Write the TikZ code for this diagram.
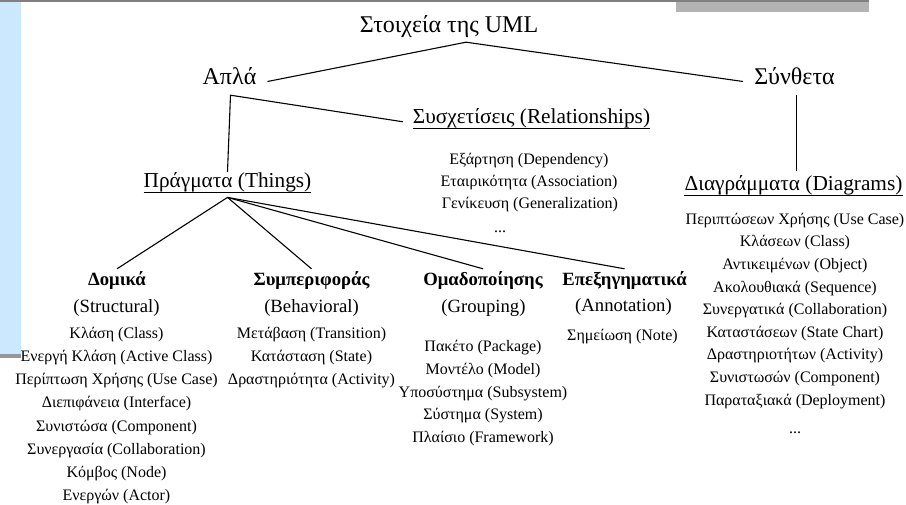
\documentclass[tikz,border=0pt]{standalone}
\usepackage{fontspec}
\setmainfont{Liberation Serif}
\usetikzlibrary{calc}
\definecolor{bandblue}{RGB}{204,232,255}
\definecolor{bargray}{RGB}{179,179,179}
\definecolor{linegray}{RGB}{128,128,128}
\definecolor{footgray}{RGB}{150,150,150}
\tikzset{
  txt/.style={inner sep=0pt, anchor=base},
  lvlA/.style={txt, font=\fontsize{24}{28}\selectfont, text height=0.7em, text depth=0pt},
  lvlB/.style={txt, font=\fontsize{21.3}{25}\selectfont, text height=0.7em, text depth=0.25em},
  head/.style={txt, font=\fontsize{18.7}{22}\selectfont\bfseries, text height=0.7em, text depth=0.25em},
  sub/.style={txt, font=\fontsize{18.7}{22}\selectfont},
  item/.style={txt, font=\fontsize{16}{19}\selectfont},
  conn/.style={draw=black, line width=1.1pt},
  uline/.style={draw=black, line width=0.9pt}
}
\begin{document}
\begin{tikzpicture}[x=1pt,y=-1pt]
\useasboundingbox (0,0) rectangle (906,505);
% background decorations
\fill[bandblue] (0,2) rectangle (21,354);
\fill[footgray] (0,354) rectangle (21,358);
\fill[bargray] (676,0) rectangle (869,12);
\fill[linegray] (0,0) rectangle (869,2);

% top levels
\node[lvlA] (root) at (449,33) {Στοιχεία της UML};
\node[lvlA] (apla) at (229.5,85) {Απλά};
\node[lvlA] (synth) at (794.5,85) {Σύνθετα};
\node[lvlB] (rel) at (531.5,124) {Συσχετίσεις (Relationships)};
\node[lvlB] (things) at (227.5,188) {Πράγματα (Things)};
\node[lvlB] (diag) at (793.5,191) {Διαγράμματα (Diagrams)};
\foreach \n in {rel,things,diag}
  \draw[uline] ([yshift=-4.8pt]\n.base west) -- ([yshift=-4.8pt]\n.base east);

\coordinate (rootj) at ([xshift=17pt,yshift=-9pt]root.south);
\coordinate (aplaj) at ([xshift=1pt,yshift=-10pt]apla.south);
\coordinate (thingsj) at ([yshift=-6.7pt]things.south);

\draw[conn] ([xshift=11pt]apla.east) -- (rootj) -- ([xshift=-11pt]synth.west);
\draw[conn] ([yshift=9pt]things.north) -- (aplaj) -- ([xshift=-10pt]rel.west);
\draw[conn] ([xshift=2pt,yshift=-10pt]synth.south) -- ([xshift=3pt,yshift=13pt]diag.north);

% relationships list
\node[item] (r1) at (529,164.3) {Εξάρτηση (Dependency)};
\node[item] (r2) at (529,186.7) {Εταιρικότητα (Association)};
\node[item] (r3) at (530,208.6) {Γενίκευση (Generalization)};
\node[item] (r4) at (500,233) {...};

% categories
\node[head] (c1) at (117,286) {Δομικά};
\node[head] (c2) at (311.5,286) {Συμπεριφοράς};
\node[head] (c3) at (483,286) {Ομαδοποίησης};
\node[head] (c4) at (624.5,286) {Επεξηγηματικά};
\node[sub] (c1s) at (116.5,312.5) {(Structural)};
\node[sub] (c2s) at (311.5,312.5) {(Behavioral)};
\node[sub] (c3s) at (483.5,312.5) {(Grouping)};
\node[sub] (c4s) at (623.5,312) {(Annotation)};

\foreach \c in {c1,c2,c3,c4}
  \draw[conn] (thingsj) -- ([yshift=10pt]\c.north);

% structural
\foreach \t [count=\i] in {Κλάση (Class), Ενεργή Κλάση (Active Class), Περίπτωση Χρήσης (Use Case), Διεπιφάνεια (Interface), Συνιστώσα (Component), Συνεργασία (Collaboration), Κόμβος (Node), Ενεργών (Actor)}
  \node[item] (s\i) at (116.5,{338.3+23.2*(\i-1)}) {\t};
% behavioral
\foreach \t [count=\i] in {Μετάβαση (Transition), Κατάσταση (State), Δραστηριότητα (Activity)}
  \node[item] (b\i) at (311.5,{338.3+23.3*(\i-1)}) {\t};
% grouping
\foreach \t [count=\i] in {Πακέτο (Package), Μοντέλο (Model), Υποσύστημα (Subsystem), Σύστημα (System), Πλαίσιο (Framework)}
  \node[item] (g\i) at (483,{351.7+22.75*(\i-1)}) {\t};
% annotation
\node[item] (a1) at (622.5,340.7) {Σημείωση (Note)};
% diagrams
\foreach \t [count=\i] in {Περιπτώσεων Χρήσης (Use Case), Κλάσεων (Class), Αντικειμένων (Object), Ακολουθιακά (Sequence), Συνεργατικά (Collaboration), Καταστάσεων (State Chart), Δραστηριοτήτων (Activity), Συνιστωσών (Component), Παραταξιακά (Deployment)}
  \node[item] (d\i) at (795,{224.3+22.6*(\i-1)}) {\t};
\node[item] (d10) at (795,433) {...};
\end{tikzpicture}
\end{document}
